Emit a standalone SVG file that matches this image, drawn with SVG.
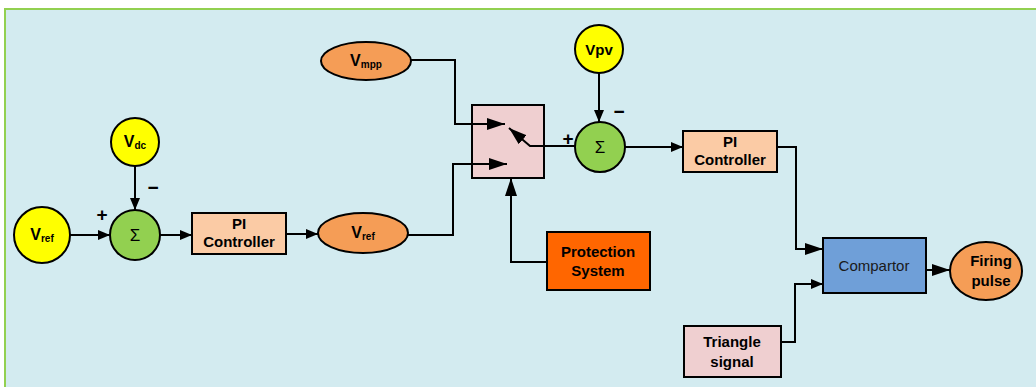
<svg xmlns="http://www.w3.org/2000/svg" width="1036" height="387" viewBox="0 0 1036 387">
<style>
.ln{fill:none;stroke:#000;stroke-width:2}
.nd{stroke:#000;stroke-width:2}
.t{font-family:"Liberation Sans",Arial,sans-serif;font-size:15px;font-weight:bold;fill:#000;text-anchor:middle}
.tn{font-family:"Liberation Sans",Arial,sans-serif;font-size:15px;fill:#1a1a1a;text-anchor:middle}
.v{font-size:16px}
.sub{font-size:10px}
.sg{font-family:"Liberation Sans",Arial,sans-serif;font-size:17px;fill:#000;text-anchor:middle}
.pm{font-family:"Liberation Sans",Arial,sans-serif;font-size:19px;font-weight:bold;fill:#000;text-anchor:middle}
</style>
<defs>
<marker id="a" viewBox="0 0 12 10" refX="12" refY="5" markerWidth="12" markerHeight="10" markerUnits="userSpaceOnUse" orient="auto"><path d="M0,0L12,5L0,10z" fill="#000"/></marker>
<marker id="b" viewBox="0 0 18 12" refX="18" refY="6" markerWidth="18" markerHeight="12" markerUnits="userSpaceOnUse" orient="auto"><path d="M0,0L18,6L0,12z" fill="#000"/></marker>
</defs>
<rect x="0" y="0" width="1036" height="387" fill="#ffffff"/>
<rect x="5" y="9" width="1040" height="390" fill="#d3ebf0" stroke="#92d050" stroke-width="2"/>
<g id="switch"><rect class="nd" x="472" y="105" width="72" height="73" fill="#efcfd0"/></g>
<g id="connectors">
<line class="ln" x1="70" y1="235" x2="110" y2="235" marker-end="url(#a)"/>
<line class="ln" x1="135" y1="166" x2="135" y2="210" marker-end="url(#a)"/>
<line class="ln" x1="160" y1="235" x2="192" y2="235" marker-end="url(#a)"/>
<line class="ln" x1="286" y1="234" x2="318" y2="234" marker-end="url(#a)"/>
<polyline class="ln" points="411,60 455,60 455,124 505,124" marker-end="url(#b)"/>
<polyline class="ln" points="408,235 453,235 453,164 507,164" marker-end="url(#b)"/>
<polyline class="ln" points="575,146 530,146 509,128" marker-end="url(#b)"/>
<line class="ln" x1="599" y1="73" x2="599" y2="122" marker-end="url(#a)"/>
<line class="ln" x1="625" y1="147" x2="683" y2="147" marker-end="url(#a)"/>
<polyline class="ln" points="547,262 511,262 511,178" marker-end="url(#b)"/>
<polyline class="ln" points="777,147 796,147 796,249 823,249" marker-end="url(#b)"/>
<polyline class="ln" points="782,342 795,342 795,284 823,284" marker-end="url(#a)"/>
<line class="ln" x1="926" y1="270" x2="950" y2="270" marker-end="url(#b)"/>
</g>
<g id="vref1"><circle class="nd" cx="42" cy="235" r="28" fill="#ffff00"/><text class="t" x="42" y="240"><tspan class="v">V</tspan><tspan class="sub" dy="2">ref</tspan></text></g>
<g id="vdc"><circle class="nd" cx="135" cy="142" r="24" fill="#ffff00"/><text class="t" x="135" y="147"><tspan class="v">V</tspan><tspan class="sub" dy="2">dc</tspan></text></g>
<g id="sum1"><circle class="nd" cx="135" cy="235" r="25" fill="#92d050"/><text class="sg" x="135" y="241">Σ</text>
<text class="pm" x="102" y="221">+</text><text class="pm" x="153" y="194">−</text></g>
<g id="pi1"><rect class="nd" x="192" y="213" width="94" height="41" fill="#fbcba5"/><text class="t" x="239" y="229">PI</text><text class="t" x="239" y="247">Controller</text></g>
<g id="vref2"><ellipse class="nd" cx="363" cy="233" rx="45" ry="20" fill="#f59d56"/><text class="t" x="363" y="238"><tspan class="v">V</tspan><tspan class="sub" dy="2">ref</tspan></text></g>
<g id="vmpp"><ellipse class="nd" cx="366" cy="61" rx="45" ry="19" fill="#f59d56"/><text class="t" x="366" y="66"><tspan class="v">V</tspan><tspan class="sub" dy="2">mpp</tspan></text></g>
<g id="vpv"><circle class="nd" cx="599" cy="49" r="24" fill="#ffff00"/><text class="t" x="599" y="55">Vpv</text></g>
<g id="sum2"><circle class="nd" cx="600" cy="147" r="25" fill="#92d050"/><text class="sg" x="600" y="153">Σ</text>
<text class="pm" x="568" y="145">+</text><text class="pm" x="619" y="118">−</text></g>
<g id="protection"><rect class="nd" x="547" y="232" width="103" height="58" fill="#ff6600"/><text class="t" x="598" y="257">Protection</text><text class="t" x="598" y="276">System</text></g>
<g id="pi2"><rect class="nd" x="683" y="131" width="94" height="41" fill="#fbcba5"/><text class="t" x="730" y="147">PI</text><text class="t" x="730" y="165">Controller</text></g>
<g id="comparator"><rect class="nd" x="823" y="238" width="103" height="55" fill="#6f9fd8"/><text class="tn" x="874" y="271">Compartor</text></g>
<g id="triangle"><rect class="nd" x="684" y="326" width="97" height="51" fill="#efcfd0"/><text class="t" x="732" y="347">Triangle</text><text class="t" x="732" y="367">signal</text></g>
<g id="firing"><ellipse class="nd" cx="986" cy="271" rx="36" ry="29" fill="#f59d56"/><text class="t" x="991" y="266">Firing</text><text class="t" x="991" y="286">pulse</text></g>
</svg>
